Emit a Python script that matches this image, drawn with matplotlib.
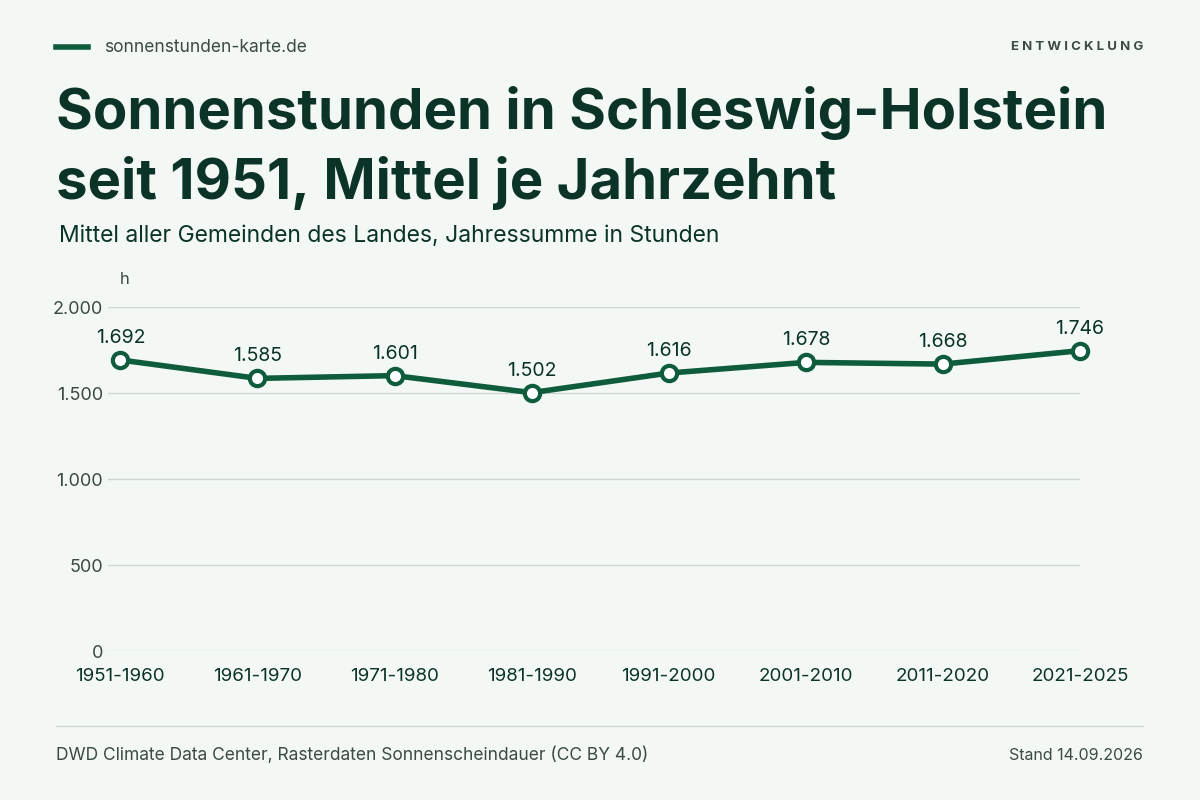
import matplotlib.pyplot as plt

# Data
decades = ["1951-1960", "1961-1970", "1971-1980", "1981-1990",
           "1991-2000", "2001-2010", "2011-2020", "2021-2025"]
hours = [1692, 1585, 1601, 1502, 1616, 1678, 1668, 1746]
yticks = [0, 500, 1000, 1500, 2000]

bg = "#f3f8f4"
dark = "#0b3328"
green = "#0e5c3c"
grey = "#3c4a44"

plt.rcParams['font.family'] = ['Inter', 'DejaVu Sans']

fig = plt.figure(figsize=(12, 8), dpi=100, facecolor=bg)
ax = fig.add_axes([108 / 1200, 1 - 651 / 800, (1080 - 108) / 1200, (651 - 307) / 800])
ax.set_facecolor(bg)

x = list(range(len(decades)))
ax.plot(x, hours, color=green, lw=4, zorder=3,
        marker="o", ms=11, mfc="white", mec=green, mew=3, clip_on=False)
for xi, v in zip(x, hours):
    ax.text(xi, v + 75, f"{v:,}".replace(",", "."), ha="center", va="bottom",
            fontsize=14, color=dark)

ax.set_xlim(-0.09, 7)
ax.set_ylim(0, 2000)
ax.set_yticks(yticks)
ax.set_yticklabels([f"{v:,}".replace(",", ".") for v in yticks])
ax.set_xticks(x)
ax.set_xticklabels(decades)
ax.grid(axis="y", color="#cfd6d2", lw=1)
ax.tick_params(length=0, labelsize=13, colors=grey)
ax.tick_params(axis="x", pad=12, colors=dark, labelsize=13.5)
for lab in ax.get_yticklabels():
    lab.set_horizontalalignment("right")
for s in ax.spines.values():
    s.set_visible(False)

# Header and texts
fig.add_artist(plt.Line2D([56 / 1200, 88 / 1200], [1 - 47 / 800] * 2, color=green, lw=4))
fig.text(104 / 1200, 1 - 47 / 800, "sonnenstunden-karte.de", fontsize=12.5, color=grey, va="center")
fig.text(1143 / 1200, 1 - 47 / 800, " ".join("ENTWICKLUNG"), fontsize=9.5, color=grey,
         va="center", ha="right", fontweight="bold")
fig.text(56 / 1200, 1 - 113 / 800, "Sonnenstunden in Schleswig-Holstein", fontsize=40.5,
         fontweight="bold", color=dark, va="center")
fig.text(56 / 1200, 1 - 183 / 800, "seit 1951, Mittel je Jahrzehnt", fontsize=40.5,
         fontweight="bold", color=dark, va="center")
fig.text(59 / 1200, 1 - 236 / 800, "Mittel aller Gemeinden des Landes, Jahressumme in Stunden",
         fontsize=16.5, color=dark, va="center")
fig.text(120 / 1200, 1 - 279 / 800, "h", fontsize=12, color=grey, va="center")

fig.add_artist(plt.Line2D([56 / 1200, 1143 / 1200], [1 - 726 / 800] * 2, color="#cfd6d2", lw=1))
fig.text(56 / 1200, 1 - 755 / 800, "DWD Climate Data Center, Rasterdaten Sonnenscheindauer (CC BY 4.0)",
         fontsize=12.5, color=grey, va="center")
fig.text(1143 / 1200, 1 - 755 / 800, "Stand 14.09.2026", fontsize=11.5, color=grey,
         va="center", ha="right")

fig.savefig("out.png", dpi=100, facecolor=bg)
